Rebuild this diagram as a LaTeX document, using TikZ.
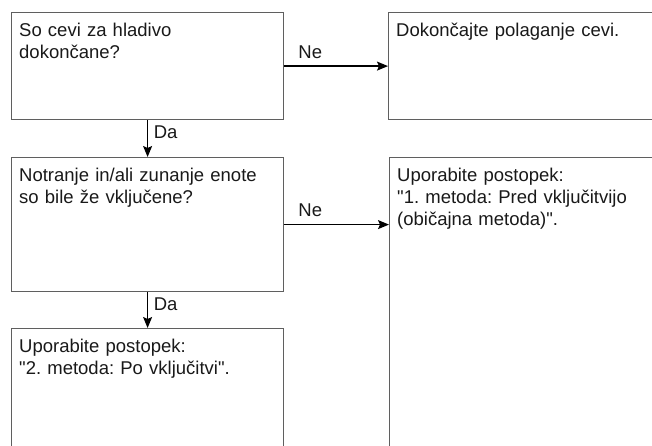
\documentclass[tikz,border=0pt]{standalone}
\usepackage{fontspec}
\setmainfont{Liberation Sans}
\usetikzlibrary{arrows.meta,calc}
\definecolor{BoxClr}{RGB}{95,95,95}
\definecolor{TxtClr}{RGB}{25,25,25}
\frenchspacing

\begin{document}
\begin{tikzpicture}[x=1pt,y=1pt,
  box/.style={draw=BoxClr,line width=1.2pt,inner sep=0pt,anchor=north west},
  txt/.style={anchor=north west,inner sep=0pt,text width=260pt,align=left,
    text=TxtClr,font=\fontsize{18.5}{22}\selectfont},
  lbl/.style={inner sep=0pt,text=TxtClr,font=\fontsize{18.5}{22}\selectfont},
  flow/.style={line width=1.2pt,-{Stealth[length=11pt,width=9pt,inset=2pt]}}]

\useasboundingbox (0,0) rectangle (652,445);
\clip (0,0) rectangle (652,445);

% boxes
\node[box,minimum width=272pt,minimum height=107pt] (cevi) at (11,433) {};
\node[box,minimum width=300pt,minimum height=107pt] (polaganje) at (388,433) {};
\node[box,minimum width=272pt,minimum height=134pt] (enote) at (11,288) {};
\node[box,minimum width=300pt,minimum height=320pt] (metodaI) at (389,288) {};
\node[box,minimum width=272pt,minimum height=150pt] (metodaII) at (11,117) {};

% texts
\node[txt] (tcevi) at ($(cevi.north west)+(8,-8.6)$)
  {\strut So cevi za hladivo\\dokončane?};
\node[txt] (tpolaganje) at ($(polaganje.north west)+(8,-8.6)$)
  {\strut Dokončajte polaganje cevi.};
\node[txt] (tenote) at ($(enote.north west)+(8,-8.6)$)
  {\strut Notranje in/ali zunanje enote\\so bile že vključene?};
\node[txt] (tmetodaI) at ($(metodaI.north west)+(8,-8.6)$)
  {\strut Uporabite postopek:\\\textquotedbl 1. metoda: Pred vključitvijo\\(običajna metoda)\textquotedbl .};
\node[txt] (tmetodaII) at ($(metodaII.north west)+(8,-8.6)$)
  {\strut Uporabite postopek:\\\textquotedbl 2. metoda: Po vključitvi\textquotedbl .};

% connectors
\draw[flow] (cevi.east) -- node[lbl,pos=0,anchor=base west,xshift=13.6pt,yshift=8pt] {Ne} (polaganje.west);
\draw[flow] (cevi.south) -- node[lbl,anchor=base west,xshift=5.6pt] {Da} (enote.north);
\draw[flow] (enote.east) -- node[lbl,pos=0,anchor=base west,xshift=13.6pt,yshift=8pt] {Ne} (enote.east -| metodaI.west);
\draw[flow] (enote.south) -- node[lbl,anchor=base west,xshift=5.6pt] {Da} (metodaII.north);

\end{tikzpicture}
\end{document}
